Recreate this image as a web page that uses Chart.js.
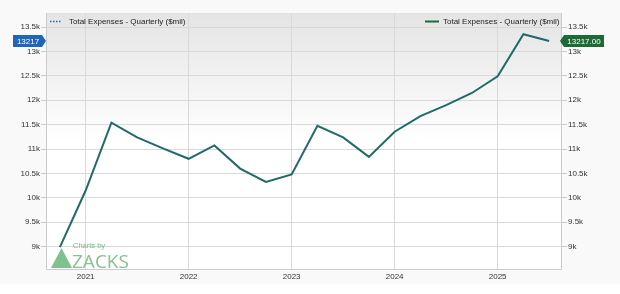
<!DOCTYPE html>
<html>
<head>
<meta charset="utf-8">
<script src="https://cdn.jsdelivr.net/npm/chart.js@4/dist/chart.umd.min.js"></script>
<style>
  html, body { margin: 0; padding: 0; background: #ffffff; }
  #wrap { width: 620px; height: 294px; }
</style>
</head>
<body>
<div id="wrap"><canvas id="canvas" width="620" height="294"></canvas></div>
<script>
// quarter end dates and total expenses ($mil)
const quarters = ['2020-09-30', '2020-12-31', '2021-03-31', '2021-06-30', '2021-09-30',
  '2021-12-31', '2022-03-31', '2022-06-30', '2022-09-30', '2022-12-31',
  '2023-03-31', '2023-06-30', '2023-09-30', '2023-12-31', '2024-03-31',
  '2024-06-30', '2024-09-30', '2024-12-31', '2025-03-31', '2025-06-30'];
const expenses = [8990, 10150, 11540, 11240, 11015, 10800, 11075, 10600, 10325, 10480,
  11475, 11240, 10840, 11355, 11675, 11900, 12150, 12490, 13355, 13217];
// tick labels
const yearTicks = [2021, 2022, 2023, 2024, 2025];
const valueTicks = [9000, 9500, 10000, 10500, 11000, 11500, 12000, 12500, 13000, 13500];
const seriesName = 'Total Expenses - Quarterly ($mil)';

const FONT = '"Liberation Sans", Arial, sans-serif';
const lineColor = '#1f6b68';

// quarter end -> decimal year (Dec 31 counts as the next year's start)
function toYear(s) {
  const [y, m] = s.split('-').map(Number);
  return y + m / 12;
}
const points = quarters.map((q, i) => ({ x: toYear(q), y: expenses[i] }));
const lastValue = expenses[expenses.length - 1];

function fmtK(v) {
  return (v / 1000) + 'k';
}

const decor = {
  id: 'decor',
  beforeDraw(chart) {
    const { ctx, chartArea: a } = chart;
    ctx.save();
    ctx.fillStyle = '#f9f9f9';
    ctx.fillRect(0, 0, chart.width, 284);
    const g = ctx.createLinearGradient(0, a.top, 0, a.bottom);
    g.addColorStop(0, '#e4e4e4');
    g.addColorStop(0.5, '#ffffff');
    g.addColorStop(1, '#ffffff');
    ctx.fillStyle = g;
    ctx.fillRect(a.left, a.top, a.right - a.left, a.bottom - a.top);
    ctx.restore();
  },
  beforeDatasetsDraw(chart) {
    // Charts by ZACKS logo
    const { ctx } = chart;
    ctx.save();
    ctx.fillStyle = '#80c28f';
    ctx.beginPath();
    ctx.moveTo(51, 268);
    ctx.lineTo(61.5, 248);
    ctx.lineTo(72, 268);
    ctx.closePath();
    ctx.fill();
    ctx.fillStyle = '#7ab886';
    ctx.font = '7.5px ' + FONT;
    ctx.textBaseline = 'middle';
    ctx.fillText('Charts by', 73, 246);
    ctx.fillStyle = '#86c293';
    ctx.font = '19px "Open Sans", ' + FONT;
    ctx.textBaseline = 'alphabetic';
    ctx.fillText('ZACKS', 72, 268);
    ctx.restore();
  },
  afterDraw(chart) {
    const { ctx } = chart;
    const yL = chart.scales.y.getPixelForValue(lastValue);
    ctx.save();
    ctx.font = '8px ' + FONT;
    ctx.textBaseline = 'middle';
    // left legend (dotted blue)
    ctx.strokeStyle = '#1f66c0';
    ctx.lineWidth = 1.5;
    ctx.setLineDash([1.5, 1.5]);
    ctx.beginPath();
    ctx.moveTo(50, 21.5);
    ctx.lineTo(62, 21.5);
    ctx.stroke();
    ctx.setLineDash([]);
    ctx.fillStyle = '#222';
    ctx.fillText(seriesName, 69, 22);
    // right legend (solid green)
    ctx.strokeStyle = '#1b6b3a';
    ctx.lineWidth = 2;
    ctx.beginPath();
    ctx.moveTo(425, 21.5);
    ctx.lineTo(439, 21.5);
    ctx.stroke();
    ctx.fillText(seriesName, 443, 22);
    // left value badge
    ctx.fillStyle = '#1f66b8';
    ctx.beginPath();
    ctx.moveTo(13, yL - 6);
    ctx.lineTo(42, yL - 6);
    ctx.lineTo(46, yL);
    ctx.lineTo(42, yL + 6);
    ctx.lineTo(13, yL + 6);
    ctx.closePath();
    ctx.fill();
    ctx.fillStyle = '#ffffff';
    ctx.textAlign = 'center';
    ctx.fillText(String(lastValue), 28, yL + 0.5);
    // right value badge
    ctx.fillStyle = '#1c6b35';
    ctx.beginPath();
    ctx.moveTo(560, yL);
    ctx.lineTo(564, yL - 6);
    ctx.lineTo(604, yL - 6);
    ctx.lineTo(604, yL + 6);
    ctx.lineTo(564, yL + 6);
    ctx.closePath();
    ctx.fill();
    ctx.fillStyle = '#ffffff';
    ctx.fillText(lastValue.toFixed(2), 584, yL + 0.5);
    ctx.restore();
  }
};

const ctx = document.getElementById('canvas');
const expenseChart = new Chart(ctx, {
  type: 'line',
  data: {
    datasets: [
      {
        label: seriesName,
        data: points,
        borderColor: lineColor,
        borderWidth: 2,
        pointRadius: 0,
        tension: 0,
        fill: false
      }
    ]
  },
  options: {
    responsive: false,
    animation: false,
    layout: { padding: { top: 13, left: 0, right: 0, bottom: 0 } },
    plugins: {
      legend: { display: false },
      tooltip: { enabled: false }
    },
    scales: {
      x: {
        type: 'linear',
        min: 2020.615,
        max: 2025.615,
        afterBuildTicks: s => { s.ticks = yearTicks.map(v => ({ value: v })); },
        afterFit: s => { s.height = 25; },
        grid: { color: '#d9d9d9', drawTicks: false },
        border: { color: '#cccccc' },
        ticks: {
          font: { family: FONT, size: 8 },
          color: '#333',
          padding: 3,
          maxRotation: 0,
          callback: v => String(v)
        }
      },
      y: {
        position: 'left',
        min: 8540,
        max: 13790,
        afterBuildTicks: s => { s.ticks = valueTicks.map(v => ({ value: v })); },
        afterFit: s => { s.width = 46; },
        grid: { color: '#d9d9d9', tickLength: 5, tickColor: '#cccccc' },
        border: { color: '#cccccc' },
        ticks: {
          font: { family: FONT, size: 8 },
          color: '#333',
          padding: 1,
          callback: v => fmtK(v)
        }
      },
      y2: {
        position: 'right',
        min: 8540,
        max: 13790,
        afterBuildTicks: s => { s.ticks = valueTicks.map(v => ({ value: v })); },
        afterFit: s => { s.width = 59; },
        grid: { display: true, drawOnChartArea: false, tickLength: 6, tickColor: '#cccccc' },
        border: { color: '#cccccc' },
        ticks: {
          font: { family: FONT, size: 8 },
          color: '#333',
          padding: 1,
          callback: v => fmtK(v)
        }
      }
    }
  },
  plugins: [decor]
});
</script>
</body>
</html>
